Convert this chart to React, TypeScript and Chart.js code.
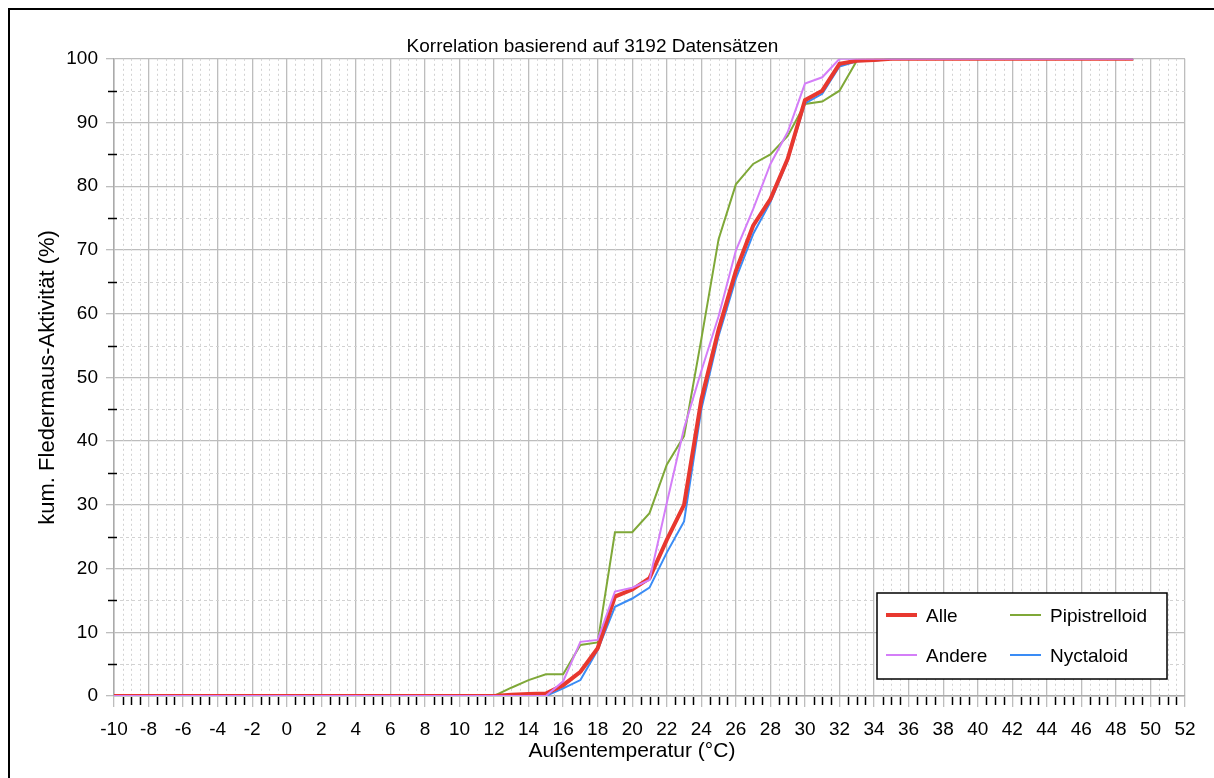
import React, { useEffect, useRef } from "react";
import { Chart, registerables } from "chart.js";

Chart.register(...registerables);

// ---------- data ----------
const temperatures = [
  -10, -9, -8, -7, -6, -5, -4, -3, -2, -1,
  0, 1, 2, 3, 4, 5, 6, 7, 8, 9,
  10, 11, 12, 13, 14, 15, 16, 17, 18, 19,
  20, 21, 22, 23, 24, 25, 26, 27, 28, 29,
  30, 31, 32, 33, 34, 35, 36, 37, 38, 39,
  40, 41, 42, 43, 44, 45, 46, 47, 48, 49,
];

const alle = [
  0, 0, 0, 0, 0, 0, 0, 0, 0, 0,
  0, 0, 0, 0, 0, 0, 0, 0, 0, 0,
  0, 0, 0, 0.2, 0.3, 0.4, 1.7, 3.8, 7.5, 15.6,
  16.7, 18.5, 24.5, 30.0, 46.5, 57.5, 66.7, 73.8, 78.0, 84.3,
  93.5, 95.0, 99.2, 99.7, 99.8, 100, 100, 100, 100, 100,
  100, 100, 100, 100, 100, 100, 100, 100, 100, 100,
];

const andere = [
  0, 0, 0, 0, 0, 0, 0, 0, 0, 0,
  0, 0, 0, 0, 0, 0, 0, 0, 0, 0,
  0, 0, 0, 0, 0, 0, 2.3, 8.5, 8.8, 16.4,
  17.0, 18.2, 30.3, 42.0, 51.0, 59.6, 69.9, 76.4, 83.5, 88.5,
  96.1, 97.1, 100, 100, 100, 100, 100, 100, 100, 100,
  100, 100, 100, 100, 100, 100, 100, 100, 100, 100,
];

const pipistrelloid = [
  0, 0, 0, 0, 0, 0, 0, 0, 0, 0,
  0, 0, 0, 0, 0, 0, 0, 0, 0, 0,
  0, 0, 0, 1.3, 2.5, 3.4, 3.4, 8.0, 8.4, 25.7,
  25.7, 28.7, 36.3, 40.8, 56.0, 71.7, 80.3, 83.5, 85.0, 87.9,
  92.9, 93.3, 95.0, 99.7, 99.8, 100, 100, 100, 100, 100,
  100, 100, 100, 100, 100, 100, 100, 100, 100, 100,
];

const nyctaloid = [
  0, 0, 0, 0, 0, 0, 0, 0, 0, 0,
  0, 0, 0, 0, 0, 0, 0, 0, 0, 0,
  0, 0, 0, 0, 0, 0, 1.2, 2.5, 7.2, 14.0,
  15.3, 17.0, 22.5, 27.4, 45.0, 56.5, 65.5, 72.5, 77.5, 84.0,
  93.0, 94.5, 98.8, 99.6, 99.7, 100, 100, 100, 100, 100,
  100, 100, 100, 100, 100, 100, 100, 100, 100, 100,
];

const seriesNames = ["Alle", "Andere", "Pipistrelloid", "Nyctaloid"];
const seriesValues = [alle, andere, pipistrelloid, nyctaloid];
const seriesColors = ["#e8382f", "#d47ef8", "#7fa838", "#3a8cf5"];
const seriesWidths = [4, 2, 2, 2];
const seriesOrder = [1, 0, 3, 2];
// legend grid: rows of dataset indices
const legendRows = [
  [0, 2],
  [1, 3],
];

const titleText = "Korrelation basierend auf 3192 Datensätzen";
const xTitleText = "Außentemperatur (°C)";
const yTitleText = "kum. Fledermaus-Aktivität (%)";

const xMin = -10;
const xMax = 52;
const yMin = 0;
const yMax = 100;

const FONT = "'Liberation Sans', Arial, Helvetica, sans-serif";
const MAJOR_GRID = "#bdbdbd";
const MINOR_GRID = "#d2d2d2";

const decorPlugin = {
  id: "decor",
  beforeDraw(chart: any) {
    const { ctx, width, height } = chart;
    ctx.save();
    ctx.fillStyle = "#ffffff";
    ctx.fillRect(0, 0, width, height);
    ctx.strokeStyle = "#000000";
    ctx.lineWidth = 2;
    ctx.beginPath();
    ctx.moveTo(9, height);
    ctx.lineTo(9, 9);
    ctx.lineTo(width, 9);
    ctx.stroke();
    ctx.restore();
  },
  beforeDatasetsDraw(chart: any) {
    const { ctx, chartArea } = chart;
    const xs = chart.scales.x;
    const ys = chart.scales.y;
    ctx.save();
    // minor vertical grid every 0.5
    ctx.strokeStyle = MINOR_GRID;
    ctx.lineWidth = 1;
    ctx.setLineDash([2, 3]);
    const nX = Math.round((xMax - xMin) / 0.5);
    for (let i = 0; i <= nX; i++) {
      if (i % 4 === 0) continue;
      const px = Math.round(xs.getPixelForValue(xMin + i * 0.5)) + 0.5;
      ctx.beginPath();
      ctx.moveTo(px, chartArea.top);
      ctx.lineTo(px, chartArea.bottom);
      ctx.stroke();
    }
    // minor horizontal grid at 5s
    ctx.setLineDash([3, 3]);
    for (let v = 5; v < yMax; v += 10) {
      const py = Math.round(ys.getPixelForValue(v)) + 0.5;
      ctx.beginPath();
      ctx.moveTo(chartArea.left, py);
      ctx.lineTo(chartArea.right, py);
      ctx.stroke();
    }
    ctx.setLineDash([]);
    // minor ticks
    ctx.strokeStyle = "#000000";
    ctx.lineWidth = 1.5;
    for (let i = 0; i <= nX; i++) {
      if (i % 4 === 0) continue;
      const px = Math.round(xs.getPixelForValue(xMin + i * 0.5)) + 0.5;
      ctx.beginPath();
      ctx.moveTo(px, chartArea.bottom + 1);
      ctx.lineTo(px, chartArea.bottom + 9);
      ctx.stroke();
    }
    for (let v = 5; v < yMax; v += 10) {
      const py = Math.round(ys.getPixelForValue(v)) + 0.5;
      ctx.beginPath();
      ctx.moveTo(chartArea.left - 6, py);
      ctx.lineTo(chartArea.left + 3, py);
      ctx.stroke();
    }
    ctx.restore();
  },
  afterDatasetsDraw(chart: any) {
    const { ctx, chartArea } = chart;
    const boxRight = chartArea.right - 18;
    const boxBottom = chartArea.bottom - 17;
    const boxW = 290;
    const boxH = 86;
    const bx = boxRight - boxW;
    const by = boxBottom - boxH;
    ctx.save();
    ctx.fillStyle = "#ffffff";
    ctx.fillRect(bx, by, boxW, boxH);
    ctx.strokeStyle = "#000000";
    ctx.lineWidth = 1.5;
    ctx.strokeRect(bx, by, boxW, boxH);
    ctx.font = `19px ${FONT}`;
    ctx.textBaseline = "middle";
    ctx.textAlign = "left";
    const colX = [bx + 9, bx + 133];
    const rowY = [by + 24, by + 64];
    legendRows.forEach((row, r) => {
      row.forEach((di, c) => {
        const ds = chart.data.datasets[di];
        const x0 = colX[c];
        const y0 = rowY[r];
        ctx.strokeStyle = ds.borderColor;
        ctx.lineWidth = ds.borderWidth;
        ctx.beginPath();
        ctx.moveTo(x0, y0 - 2);
        ctx.lineTo(x0 + 31, y0 - 2);
        ctx.stroke();
        ctx.fillStyle = "#000000";
        ctx.fillText(ds.label, x0 + 40, y0);
      });
    });
    ctx.restore();
  },
  afterDraw(chart: any) {
    const { ctx } = chart;
    ctx.save();
    ctx.font = `21px ${FONT}`;
    ctx.fillStyle = "#000000";
    ctx.textAlign = "center";
    ctx.textBaseline = "middle";
    ctx.fillText(xTitleText, 632, 751);
    ctx.restore();
  },
};

export default function App() {
  const canvasRef = useRef<HTMLCanvasElement>(null);

  useEffect(() => {
    const canvas = canvasRef.current;
    if (!canvas) return;
    const datasets = seriesNames.map((name, i) => ({
      label: name,
      data: temperatures.map((t, j) => ({ x: t, y: seriesValues[i][j] })),
      borderColor: seriesColors[i],
      backgroundColor: seriesColors[i],
      borderWidth: seriesWidths[i],
      pointRadius: 0,
      tension: 0,
      fill: false,
      order: seriesOrder[i],
    }));

    const chart = new Chart(canvas, {
      type: "line",
      data: { datasets },
      plugins: [decorPlugin],
      options: {
        responsive: false,
        animation: false,
        devicePixelRatio: 1,
        layout: { padding: { left: 0, right: 29, top: 0, bottom: 0 } },
        plugins: {
          legend: { display: false },
          tooltip: { enabled: false },
          title: {
            display: true,
            text: titleText,
            color: "#000000",
            font: { family: FONT, size: 19, weight: "normal" },
            padding: { top: 35, bottom: 1 },
          },
        },
        scales: {
          x: {
            type: "linear",
            min: xMin,
            max: xMax,
            afterFit(scale: any) {
              scale.height = 82;
            },
            ticks: {
              stepSize: 2,
              autoSkip: false,
              maxRotation: 0,
              color: "#000000",
              font: { family: FONT, size: 19 },
              padding: 11,
            },
            grid: {
              color: MAJOR_GRID,
              lineWidth: 1.3,
              tickLength: 11,
              tickColor: MAJOR_GRID,
            },
            border: { color: "#aaaaaa", width: 1.5 },
            title: { display: false },
          },
          y: {
            type: "linear",
            min: yMin,
            max: yMax,
            afterFit(scale: any) {
              scale.width = 114;
            },
            ticks: {
              stepSize: 10,
              color: "#000000",
              font: { family: FONT, size: 19 },
              padding: 8,
            },
            grid: {
              color: MAJOR_GRID,
              lineWidth: 1.3,
              tickLength: 8,
              tickColor: MAJOR_GRID,
            },
            border: { color: "#aaaaaa", width: 1.5 },
            title: {
              display: true,
              text: yTitleText,
              color: "#000000",
              font: { family: FONT, size: 22 },
              padding: { top: 35, bottom: 0 },
            },
          },
        },
      },
    } as any);

    return () => chart.destroy();
  }, []);

  return (
    <div
      style={{
        position: "fixed",
        left: 0,
        top: 0,
        width: 1214,
        height: 778,
        overflow: "hidden",
        background: "#ffffff",
      }}
    >
      <canvas
        ref={canvasRef}
        width={1214}
        height={778}
        style={{ display: "block", width: 1214, height: 778 }}
      />
    </div>
  );
}
